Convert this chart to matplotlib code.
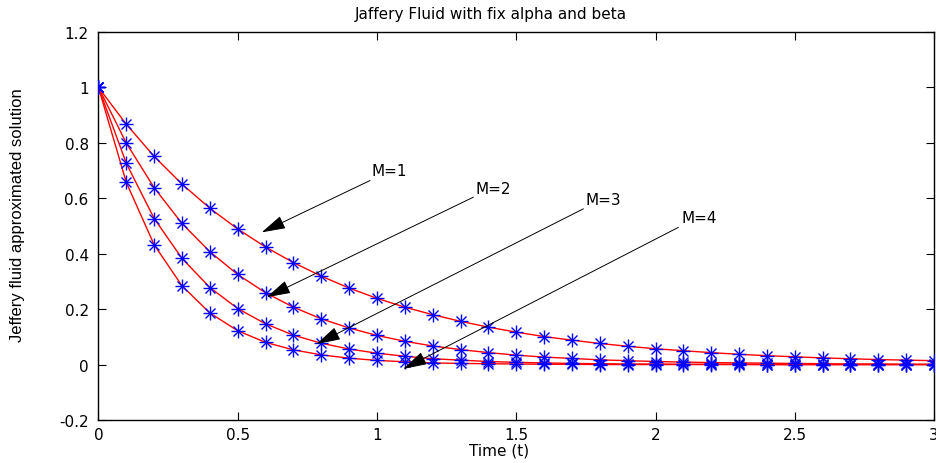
import matplotlib
matplotlib.use("Agg")
import matplotlib.pyplot as plt

# time samples and approximated solution for each M
t = [0.0, 0.1, 0.2, 0.3, 0.4, 0.5, 0.6, 0.7, 0.8, 0.9, 1.0,
     1.1, 1.2, 1.3, 1.4, 1.5, 1.6, 1.7, 1.8, 1.9, 2.0,
     2.1, 2.2, 2.3, 2.4, 2.5, 2.6, 2.7, 2.8, 2.9, 3.0]

m1 = [1.000, 0.867, 0.751, 0.651, 0.564, 0.489, 0.424, 0.368, 0.319, 0.276, 0.239,
      0.207, 0.180, 0.156, 0.135, 0.117, 0.101, 0.088, 0.076, 0.066, 0.057,
      0.050, 0.043, 0.037, 0.032, 0.028, 0.024, 0.021, 0.018, 0.016, 0.014]
m2 = [1.000, 0.799, 0.638, 0.509, 0.407, 0.325, 0.259, 0.207, 0.165, 0.132, 0.105,
      0.084, 0.067, 0.054, 0.043, 0.034, 0.027, 0.022, 0.017, 0.014, 0.011,
      0.009, 0.007, 0.006, 0.005, 0.004, 0.003, 0.002, 0.002, 0.001, 0.001]
m3 = [1.000, 0.726, 0.527, 0.383, 0.278, 0.202, 0.147, 0.106, 0.077, 0.056, 0.041,
      0.030, 0.021, 0.016, 0.011, 0.008, 0.006, 0.004, 0.003, 0.002, 0.002,
      0.001, 0.001, 0.001, 0.000, 0.000, 0.000, 0.000, 0.000, 0.000, 0.000]
m4 = [1.000, 0.657, 0.432, 0.284, 0.186, 0.122, 0.080, 0.053, 0.035, 0.023, 0.015,
      0.010, 0.006, 0.004, 0.003, 0.002, 0.001, 0.001, 0.000, 0.000, 0.000,
      0.000, 0.000, 0.000, 0.000, 0.000, 0.000, 0.000, 0.000, 0.000, 0.000]

curve_names = ["M=1", "M=2", "M=3", "M=4"]

x_ticks = [0, 0.5, 1, 1.5, 2, 2.5, 3]
x_tick_labels = ["0", "0.5", "1", "1.5", "2", "2.5", "3"]
y_ticks = [-0.2, 0, 0.2, 0.4, 0.6, 0.8, 1.0, 1.2]
y_tick_labels = ["-0.2", "0", "0.2", "0.4", "0.6", "0.8", "1", "1.2"]

# arrow tip, arrow tail, text anchor (data coords) for every curve label
arrow_tips = [(0.586, 0.477), (0.604, 0.243), (0.783, 0.074), (1.094, -0.016)]
arrow_tails = [(0.975, 0.664), (1.346, 0.604), (1.741, 0.562), (2.082, 0.495)]
label_pos = [(0.981, 0.699), (1.352, 0.637), (1.747, 0.594), (2.092, 0.529)]

FONT = "DejaVu Sans"

fig = plt.figure(figsize=(9.36, 4.64), dpi=100)
ax = fig.add_axes([0.1052, 0.0927, 0.8927, 0.8362])

for y in [m1, m2, m3, m4]:
    ax.plot(t, y, color="red", lw=1.0, zorder=2)
    # asterisk marker = plus with shorter diagonal arms
    ax.plot(t, y, linestyle="none", marker="+", markersize=10,
            markeredgecolor="blue", markeredgewidth=1.0, zorder=3)
    ax.plot(t, y, linestyle="none", marker="x", markersize=6.5,
            markeredgecolor="blue", markeredgewidth=1.0, zorder=3)

# labels with arrows pointing at the curves
for name, tip, tail, pos in zip(curve_names, arrow_tips, arrow_tails, label_pos):
    ax.annotate("", xy=tip, xytext=tail,
                arrowprops=dict(arrowstyle="-|>,head_length=1.0,head_width=0.28",
                                color="black", lw=0.7, mutation_scale=15,
                                shrinkA=0, shrinkB=0),
                zorder=4)
    ax.text(pos[0], pos[1], name, fontsize=11, family=FONT,
            ha="left", va="center")

ax.set_xlim(0, 3)
ax.set_ylim(-0.2, 1.2)
ax.set_xticks(x_ticks)
ax.set_xticklabels(x_tick_labels, family=FONT, fontsize=11)
ax.set_yticks(y_ticks)
ax.set_yticklabels(y_tick_labels, family=FONT, fontsize=11)
ax.tick_params(direction="in", length=6, width=0.8, top=True, right=True, pad=5)
ax.tick_params(axis="y", pad=7)
for sp in ax.spines.values():
    sp.set_linewidth(1.0)

ax.set_title("Jaffery Fluid with fix alpha and beta", family=FONT,
             fontsize=11, x=0.47, pad=10)
ax.set_xlabel("Time (t)", family=FONT, fontsize=11)
ax.xaxis.set_label_coords(0.48, -0.058)
ax.set_ylabel("Jeffery fluid approximated solution",
              family=["Liberation Sans Narrow", "Liberation Sans"], fontsize=12)
ax.yaxis.set_label_coords(-0.088, 0.53)

fig.savefig("out.png", dpi=100)
